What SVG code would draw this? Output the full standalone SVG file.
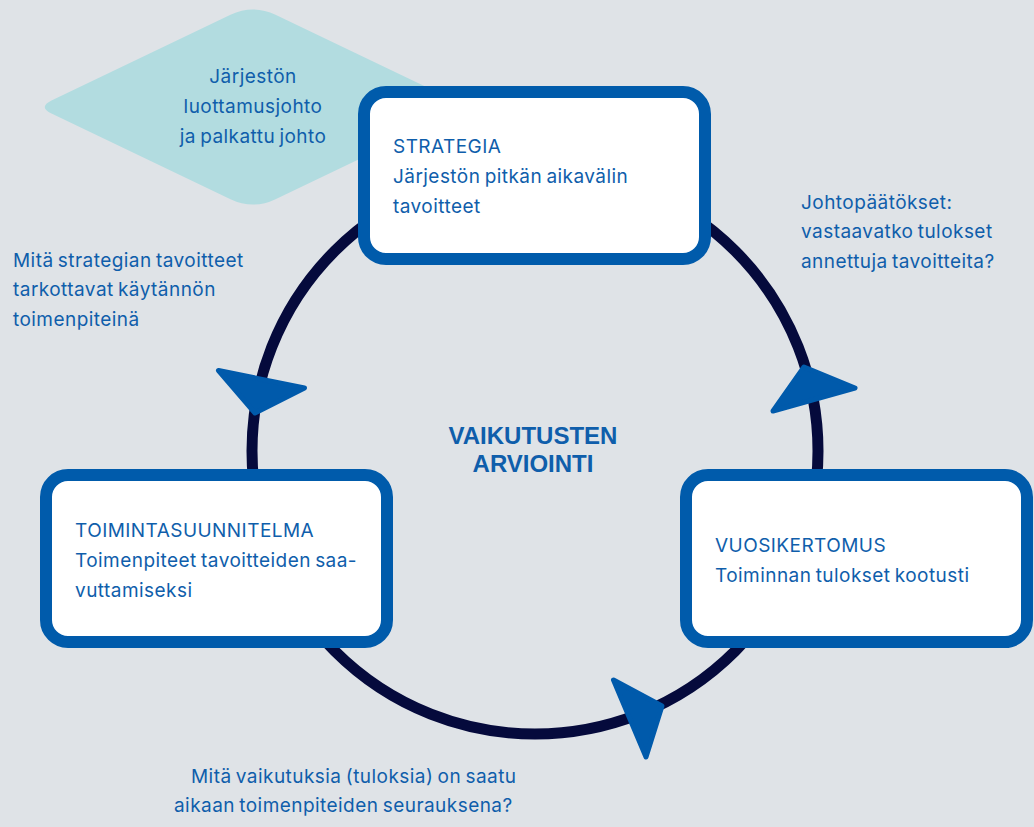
<svg xmlns="http://www.w3.org/2000/svg" width="1034" height="827" viewBox="0 0 1034 827">
<style>
.box{fill:#ffffff;stroke:#005bab;stroke-width:12}
.t{font-family:Inter,"Liberation Sans",sans-serif;font-size:19px;letter-spacing:0.45px;word-spacing:-1.5px;fill:#0f5eab}
.b{font-family:"Liberation Sans",Arial,sans-serif;font-size:24px;font-weight:bold;fill:#0f5eab}
.arr{fill:#005aab;stroke:#005aab;stroke-width:5;stroke-linejoin:round}
</style>
<rect width="1034" height="827" fill="#dfe3e7"/>
<g id="diamond">
<path d="M230.5,14.8 Q253,4 275.5,14.8 L454.5,100.5 Q468,107 454.5,113.5 L275.5,199.2 Q253,210 230.5,199.2 L51.5,113.5 Q38,107 51.5,100.5 Z" fill="#b2dce0"/>
<text class="t" text-anchor="middle"><tspan x="253" y="83">Järjestön</tspan><tspan x="253" y="113">luottamusjohto</tspan><tspan x="253" y="143">ja palkattu johto</tspan></text>
</g>
<g id="connectors">
<circle cx="535" cy="451" r="283" fill="none" stroke="#050a3c" stroke-width="11"/>
<polygon class="arr" points="218.5,370.5 304.5,388 255,413"/>
<polygon class="arr" points="804,367 855,388 773,411"/>
<polygon class="arr" points="613.5,680 662,706 646,757"/>
</g>
<g id="strategia">
<rect class="box" x="364" y="92" width="341" height="167" rx="22"/>
<text class="t"><tspan x="393" y="153">STRATEGIA</tspan><tspan x="393" y="183">Järjestön pitkän aikavälin</tspan><tspan x="393" y="213">tavoitteet</tspan></text>
</g>
<g id="toimintasuunnitelma">
<rect class="box" x="46" y="475" width="341" height="167" rx="22"/>
<text class="t"><tspan x="75" y="537">TOIMINTASUUNNITELMA</tspan><tspan x="75" y="567">Toimenpiteet tavoitteiden saa-</tspan><tspan x="75" y="597">vuttamiseksi</tspan></text>
</g>
<g id="vuosikertomus">
<rect class="box" x="686" y="475" width="341" height="167" rx="22"/>
<text class="t"><tspan x="715" y="552">VUOSIKERTOMUS</tspan><tspan x="715" y="582">Toiminnan tulokset kootusti</tspan></text>
</g>
<g id="center">
<text class="b" text-anchor="middle"><tspan x="533" y="444">VAIKUTUSTEN</tspan><tspan x="533" y="472">ARVIOINTI</tspan></text>
</g>
<g id="label-johtopaatokset">
<text class="t"><tspan x="801" y="209">Johtopäätökset:</tspan><tspan x="801" y="238">vastaavatko tulokset</tspan><tspan x="801" y="268">annettuja tavoitteita?</tspan></text>
</g>
<g id="label-strategia">
<text class="t"><tspan x="13" y="267">Mitä strategian tavoitteet</tspan><tspan x="13" y="296">tarkottavat käytännön</tspan><tspan x="13" y="326">toimenpiteinä</tspan></text>
</g>
<g id="label-vaikutukset">
<text class="t"><tspan x="191" y="783">Mitä vaikutuksia (tuloksia) on saatu</tspan><tspan x="174" y="812">aikaan toimenpiteiden seurauksena?</tspan></text>
</g>
</svg>
